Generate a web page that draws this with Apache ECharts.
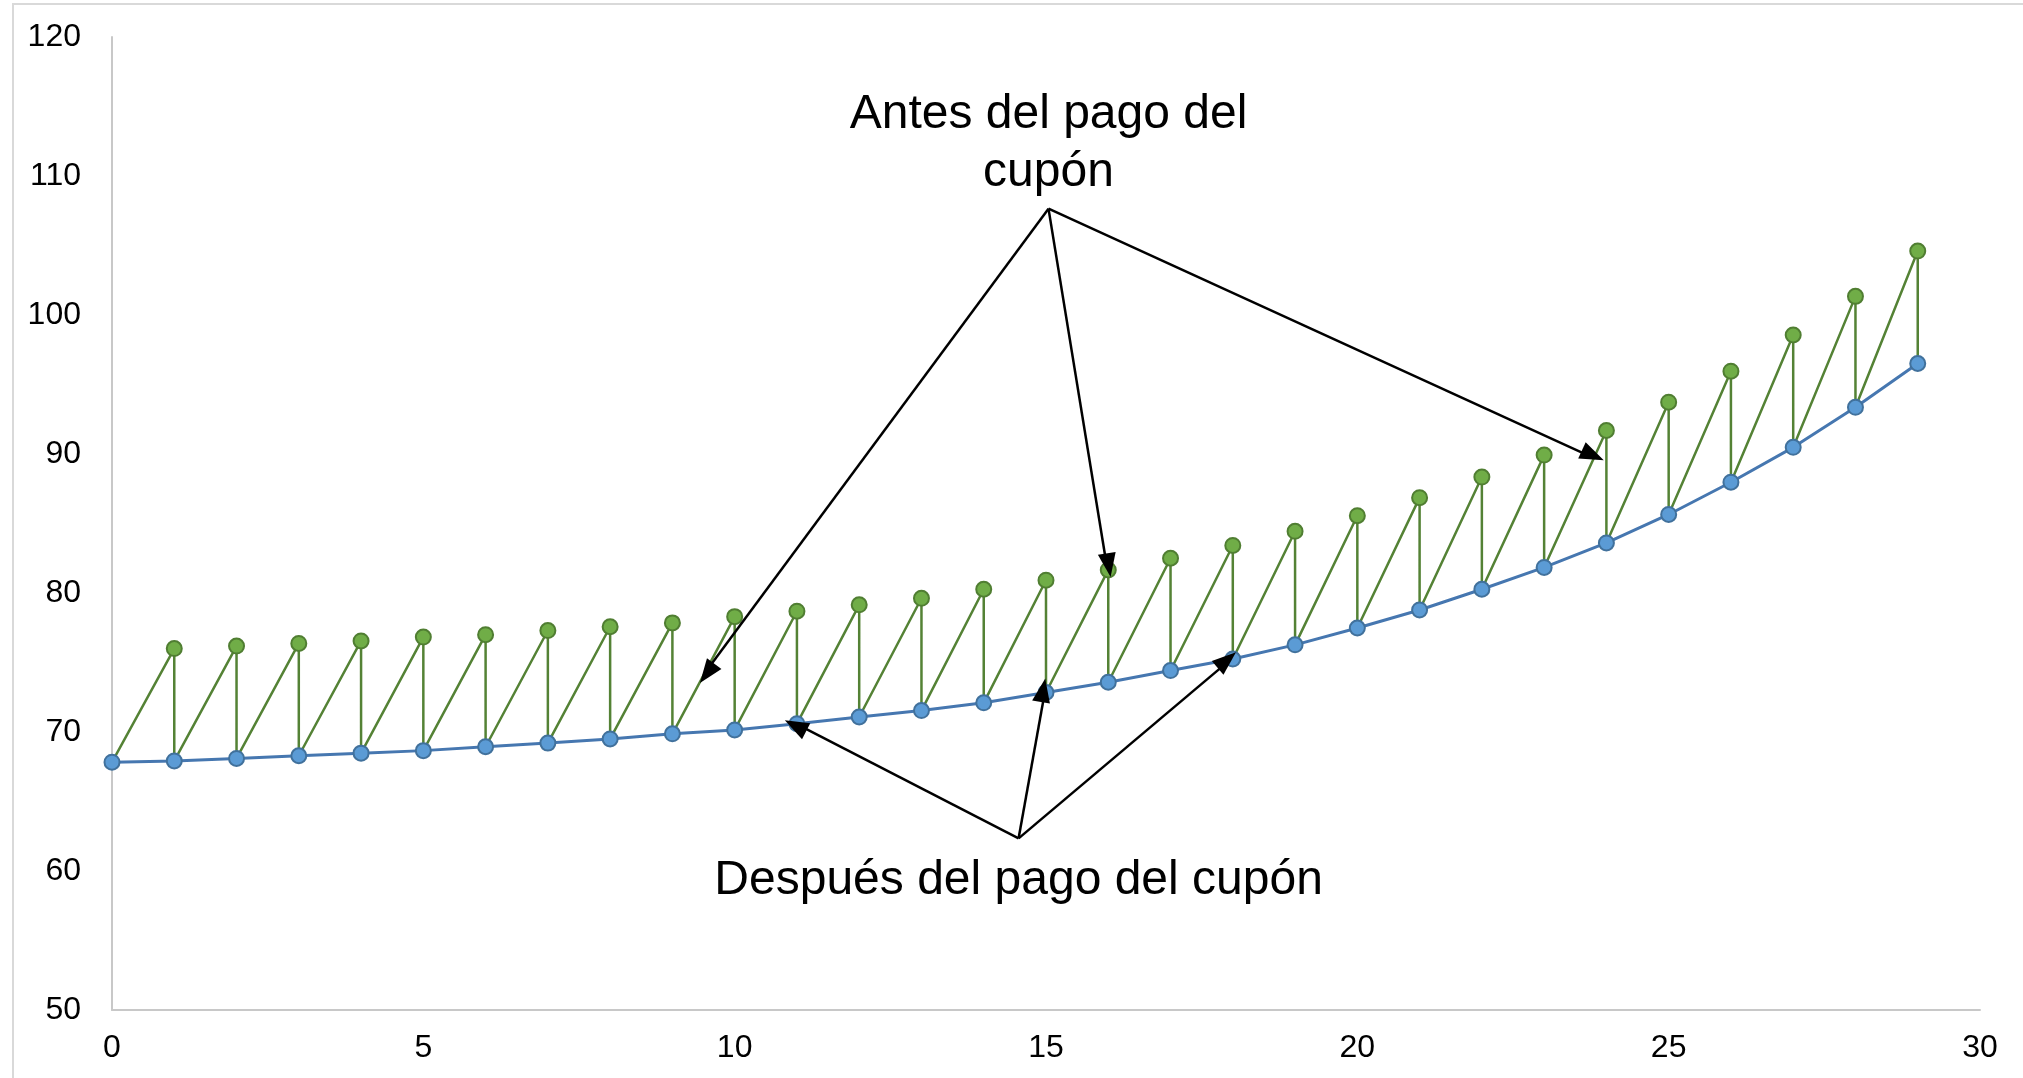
<!DOCTYPE html>
<html><head><meta charset="utf-8">
<script src="https://cdn.jsdelivr.net/npm/echarts@6/dist/echarts.min.js"></script>
<style>html,body{margin:0;padding:0;background:#fff}#c{width:2023px;height:1078px}</style>
</head><body><div id="c"></div>
<script>
// Periods (years)
const periods = [0,1,2,3,4,5,6,7,8,9,10,11,12,13,14,15,16,17,18,19,20,21,22,23,24,25,26,27,28,29];
// Price after the coupon payment (blue)
const afterCoupon = [67.83,67.92,68.10,68.29,68.48,68.66,68.94,69.20,69.50,69.87,70.15,70.60,71.08,71.54,72.10,72.84,73.58,74.42,75.25,76.27,77.48,78.78,80.27,81.84,83.60,85.65,87.97,90.48,93.36,96.51];
// Price before the coupon payment (green), periods 1..29
const beforePeriods = [1,2,3,4,5,6,7,8,9,10,11,12,13,14,15,16,17,18,19,20,21,22,23,24,25,26,27,28,29];
const beforeCoupon = [76.00,76.18,76.37,76.55,76.83,77.00,77.30,77.57,77.85,78.30,78.69,79.15,79.62,80.27,80.92,81.66,82.50,83.42,84.44,85.56,86.86,88.34,89.92,91.69,93.73,95.96,98.56,101.34,104.60];
// Axis ticks
const xTicks = [0,5,10,15,20,25,30];
const yTicks = [50,60,70,80,90,100,110,120];
// Annotation labels and arrows (data coordinates)
const labelAntes = "Antes del pago del\ncupón";
const labelDespues = "Después del pago del cupón";
const arrowsAntes = [[[15.04,107.65],[9.55,74.42]],[[15.04,107.65],[15.97,82.12]],[[15.04,107.65],[23.74,89.83]]];
const arrowsDespues = [[[14.56,62.35],[11.02,70.52]],[[14.56,62.35],[14.98,72.84]],[[14.56,62.35],[17.90,74.97]]];

// Sawtooth path for the "before" series
const sawData = [];
sawData.push({value:[periods[0], afterCoupon[0]], symbol:'none'});
beforePeriods.forEach((p, k) => {
  const idx = periods.indexOf(p);
  sawData.push({value:[p, beforeCoupon[k]]});
  sawData.push({value:[p, afterCoupon[idx]], symbol:'none'});
});

const chart = echarts.init(document.getElementById('c'), null, {renderer:'canvas'});
const labelFont = {fontFamily:'Liberation Sans, Arial, sans-serif', fontSize:32, color:'#000'};
chart.setOption({
  animation:false,
  backgroundColor:'#fff',
  grid:{left:112, right:43, top:37, bottom:68, containLabel:false},
  xAxis:{type:'value', min:xTicks[0], max:xTicks[xTicks.length-1], interval:5,
    axisLine:{show:true, lineStyle:{color:'#c8c8c8', width:2}},
    axisTick:{show:false}, splitLine:{show:false},
    axisLabel:Object.assign({margin:22}, labelFont)},
  yAxis:{type:'value', min:yTicks[0], max:yTicks[yTicks.length-1], interval:10,
    axisLine:{show:true, lineStyle:{color:'#c8c8c8', width:2}},
    axisTick:{show:false}, splitLine:{show:false},
    axisLabel:Object.assign({margin:31}, labelFont)},
  series:[
    {type:'line', name:'Antes', data:sawData, symbol:'circle', symbolSize:15,
      lineStyle:{color:'#548235', width:2.5},
      itemStyle:{color:'#70ad47', borderColor:'#507e32', borderWidth:2}, z:2},
    {type:'line', name:'Después', data:periods.map((p,i)=>[p, afterCoupon[i]]), symbol:'circle', symbolSize:15,
      lineStyle:{color:'#4677b0', width:3},
      itemStyle:{color:'#5b9bd5', borderColor:'#41719c', borderWidth:2}, z:3},
    {type:'line', name:'arrows', data:[], silent:true, z:4,
      markLine:{silent:true, symbol:['none','triangle'], symbolSize:[18,24], symbolOffset:[0,-2],
        label:{show:false},
        lineStyle:{color:'#000', width:2.5, type:'solid'},
        data: arrowsAntes.concat(arrowsDespues).map(a => [{coord:a[0]},{coord:a[1]}])}}
  ]
});

// Text annotations positioned from data coordinates
const pA = chart.convertToPixel({gridIndex:0}, [15.04, 112.3]);
const pD = chart.convertToPixel({gridIndex:0}, [14.56, 59.3]);
chart.setOption({graphic:[
  {type:'rect', shape:{x:13, y:4, width:2020, height:1090}, style:{fill:'none', stroke:'#d9d9d9', lineWidth:2}, silent:true},
  {type:'text', x:pA[0], y:pA[1], style:{text:labelAntes, font:'48px "Liberation Sans", Arial, sans-serif', fill:'#000', textAlign:'center', textVerticalAlign:'middle', lineHeight:58}, silent:true},
  {type:'text', x:pD[0], y:pD[1], style:{text:labelDespues, font:'48px "Liberation Sans", Arial, sans-serif', fill:'#000', textAlign:'center', textVerticalAlign:'middle'}, silent:true}
]});
</script></body></html>
